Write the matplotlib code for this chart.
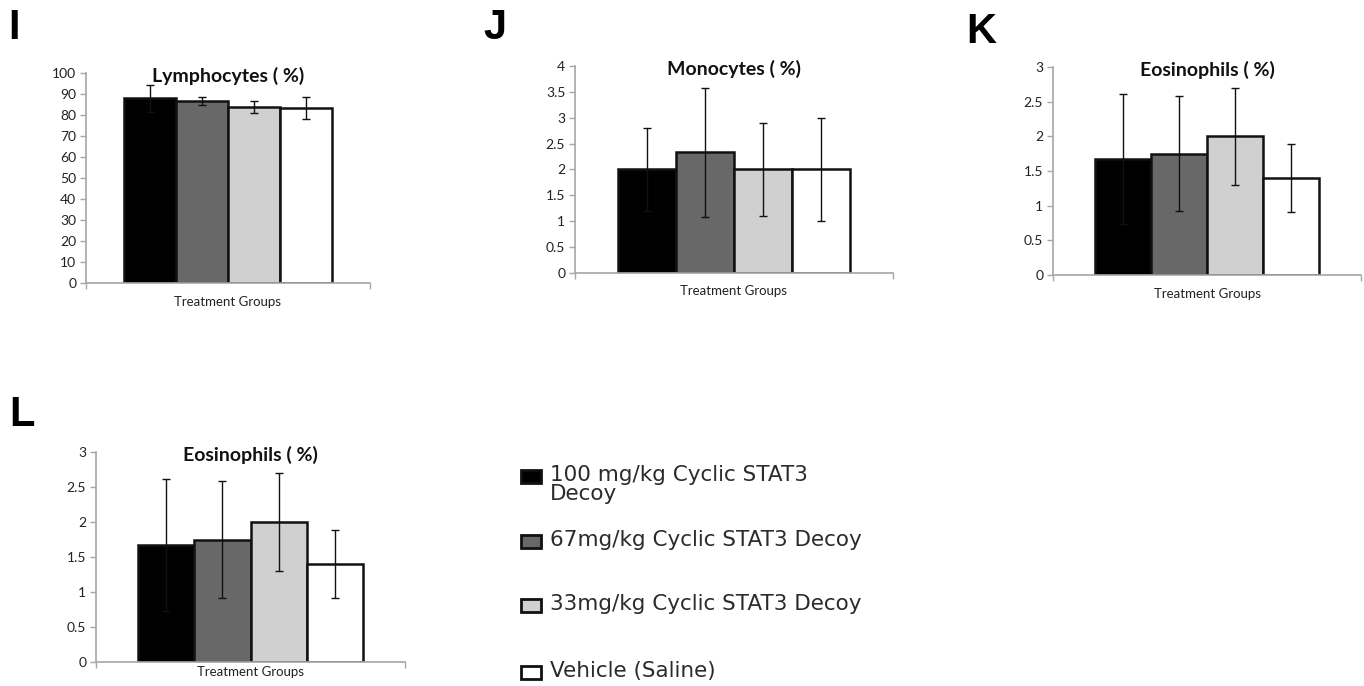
import numpy as np
import matplotlib
matplotlib.use("Agg")
import matplotlib.pyplot as plt
from matplotlib.patches import Rectangle
from matplotlib.ticker import FuncFormatter

# Treatment groups (same order in every panel)
groups = ["100 mg/kg Cyclic STAT3\nDecoy",
          "67mg/kg Cyclic STAT3 Decoy",
          "33mg/kg Cyclic STAT3 Decoy",
          "Vehicle (Saline)"]
bar_colors = ["#000000", "#686868", "#d0d0d0", "#ffffff"]

# Values
lymph_mean = [88.0, 86.7, 84.0, 83.5]
lymph_err = [6.5, 2.0, 2.9, 5.3]
mono_mean = [2.0, 2.33, 2.0, 2.0]
mono_err = [0.8, 1.25, 0.9, 1.0]
eos_mean = [1.67, 1.75, 2.0, 1.4]
eos_err = [0.94, 0.83, 0.7, 0.49]

W, H = 1364, 686
fig = plt.figure(figsize=(W / 100, H / 100), dpi=100, facecolor="white")

AXIS_GREY = "#a6a6a6"
TEXT_FONT = ["Lato", "DejaVu Sans"]


def px_axes(x0, x1, ytop, ybot):
    return fig.add_axes([x0 / W, 1 - ybot / H, (x1 - x0) / W, (ybot - ytop) / H])


def bar_panel(ax, means, errs, ymax, ystep, title, xlab_off):
    w = 0.1825
    pos = (np.arange(len(means)) - 1.5) * w
    ax.bar(pos, means, width=w, color=bar_colors, edgecolor="#111111",
           linewidth=1.8, zorder=2)
    ax.errorbar(pos, means, yerr=errs, fmt="none", ecolor="#111111",
                elinewidth=1.0, capsize=3, capthick=1.0, zorder=3)
    ax.set_xlim(-0.5, 0.5)
    ax.set_ylim(0, ymax)
    ax.set_yticks(np.arange(0, ymax + ystep / 2, ystep))
    ax.yaxis.set_major_formatter(FuncFormatter(lambda v, p: f"{v:g}"))
    ax.set_xticks([-0.5, 0.5])
    ax.set_xticklabels([])
    ax.tick_params(axis="both", direction="out", length=4, width=1,
                   color=AXIS_GREY, labelsize=10, labelcolor="#222222", pad=3)
    for lab in ax.get_yticklabels():
        lab.set_fontfamily(TEXT_FONT)
    for s in ["top", "right"]:
        ax.spines[s].set_visible(False)
    for s in ["left", "bottom"]:
        ax.spines[s].set_color(AXIS_GREY)
        ax.spines[s].set_linewidth(1.2)
    ax.patch.set_alpha(0)
    ax.text(0.5, 0.985, title, transform=ax.transAxes, ha="center", va="center",
            fontsize=14, fontweight="bold", family=TEXT_FONT, color="#111111")
    ax.annotate("Treatment Groups", xy=(0.5, 0), xycoords="axes fraction",
                xytext=(0, -xlab_off * 0.72), textcoords="offset points",
                ha="center", va="center", fontsize=9.5, family=TEXT_FONT,
                color="#222222")


ax_i = px_axes(86, 370, 73, 283)
bar_panel(ax_i, lymph_mean, lymph_err, 100, 10, "Lymphocytes ( %)", 19)

ax_j = px_axes(575, 893, 66, 273)
bar_panel(ax_j, mono_mean, mono_err, 4, 0.5, "Monocytes ( %)", 18)

ax_k = px_axes(1053, 1361, 67, 275)
bar_panel(ax_k, eos_mean, eos_err, 3, 0.5, "Eosinophils ( %)", 19)

ax_l = px_axes(96, 405, 452, 662)
bar_panel(ax_l, eos_mean, eos_err, 3, 0.5, "Eosinophils ( %)", 10)

# panel letters
for letter, x, y in [("I", 8, 28), ("J", 483, 28), ("K", 966, 32), ("L", 9, 415)]:
    fig.text(x / W, 1 - y / H, letter, fontsize=30, fontweight="bold",
             family="Liberation Sans", ha="left", va="center")

# legend drawn by hand
leg_y = [476, 541, 605, 672]
for color, label, y in zip(bar_colors, groups, leg_y):
    fig.patches.append(Rectangle((521 / W, 1 - (y + 6.5) / H), 20 / W, 13 / H,
                                 transform=fig.transFigure, facecolor=color,
                                 edgecolor="#111111", linewidth=2))
    fig.text(550 / W, 1 - (y - 11) / H, label, fontsize=15.5, family="DejaVu Sans",
             color="#2b2b2b", ha="left", va="top", linespacing=0.95)

fig.savefig("out.png", dpi=100, facecolor="white")
